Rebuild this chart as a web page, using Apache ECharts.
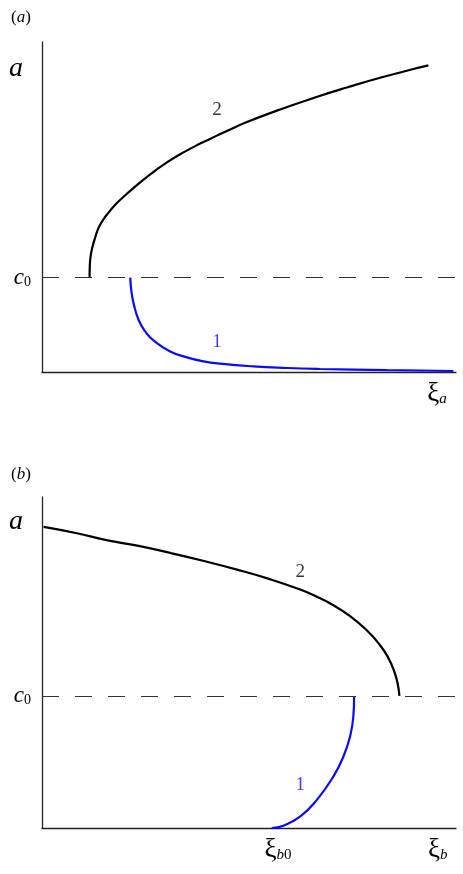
<!DOCTYPE html>
<html><head><meta charset="utf-8">
<script src="https://cdn.jsdelivr.net/npm/echarts@6/dist/echarts.min.js"></script>
<style>html,body{margin:0;padding:0;background:#fff}#c{width:463px;height:874px}</style>
</head><body><div id="c"></div>
<script>
// Panel (a): level c0 and curves (x, y in 0–100 units)
const c0A = 28.6;
const curveA2 = [[11.49,28.6],[11.54,31.85],[11.73,34.97],[12.21,37.99],[12.87,40.84],[13.66,43.67],[14.87,46.29],[16.08,48.28],[17.69,50.71],[19.31,52.64],[21.73,55.36],[26.14,59.9],[30.18,63.53],[34.18,66.55],[38.21,69.21],[42.25,71.63],[46.25,73.96],[49.49,75.75],[57.53,79.56],[65.57,83.04],[73.63,86.21],[81.67,89.15],[89.7,91.81],[93.33,92.9]];
const curveA1 = [[21.32,28.6],[21.56,24.9],[22.11,20.87],[23.32,15.82],[24.94,12.28],[26.94,9.56],[30.97,6.23],[35.0,4.42],[39.01,3.21],[43.04,2.51],[51.08,1.69],[59.14,1.21],[67.18,0.91],[83.28,0.54],[99.36,0.3]];
const labelsA = [[42.3,79.3,'2'],[42.3,9.1,'1']];
const yTicksA = [c0A, 92];
const xTicksA = [95.4];

// Panel (b)
const c0B = 39.9;
const curveB2 = [[0.39,90.96],[8.14,89.12],[15.88,86.91],[23.63,85.14],[31.38,82.97],[39.13,80.65],[46.88,78.14],[54.63,75.34],[62.36,72.05],[66.39,69.88],[70.39,67.29],[74.42,64.0],[78.45,59.72],[81.67,55.22],[83.67,51.33],[84.88,48.01],[85.84,44.03],[86.33,39.9]];
const curveB1 = [[55.5,0],[58.3,0.7],[62.4,3.5],[66.4,8.5],[70.4,15.6],[72.8,21.6],[74.4,27.6],[75.2,33.6],[75.4,39.9]];
const labelsB = [[62.4,77.4,'2'],[62.4,13.1,'1']];
const yTicksB = [c0B, 92.5];
const xTicksB = [57, 95.6];

const F = 'Liberation Serif, Times New Roman, serif';
const BLUE = '#0a0aff';

const rich = {
  big: {fontFamily: F, fontStyle: 'italic', fontSize: 28, color: '#000', padding: [0, 8, 0, 0]},
  c: {fontFamily: F, fontStyle: 'italic', fontSize: 23, color: '#000'},
  sub0: {fontFamily: F, fontSize: 14, color: '#000', verticalAlign: 'bottom', padding: [8, 0, 0, 0]},
  xi: {fontFamily: F, fontSize: 27, color: '#000'},
  subi: {fontFamily: F, fontStyle: 'italic', fontSize: 15, color: '#000', padding: [12, 0, 0, 0]},
  subn: {fontFamily: F, fontSize: 15, color: '#000', padding: [12, 0, 0, 0]}
};

function yAxisFor(idx, ticks, c0) {
  return {
    type: 'value', gridIndex: idx, min: 0, max: 100,
    axisLine: {show: true, lineStyle: {color: '#222', width: 1.3}},
    axisTick: {show: false}, splitLine: {show: false},
    axisLabel: {
      customValues: ticks, margin: 11,
      formatter: v => (Math.abs(v - c0) < 0.01 ? '{c|c}{sub0|0}' : '{big|a}'),
      rich: rich
    }
  };
}
function xAxisFor(idx, ticks, fmt) {
  return {
    type: 'value', gridIndex: idx, min: 0, max: 100,
    axisLine: {show: true, onZero: false, lineStyle: {color: '#222', width: 1.3}},
    axisTick: {show: false}, splitLine: {show: false},
    axisLabel: {customValues: ticks, margin: 8, formatter: fmt, rich: rich}
  };
}
function curve(idx, data, color, withLine, c0) {
  const s = {
    type: 'line', xAxisIndex: idx, yAxisIndex: idx, data: data,
    smooth: 0.5, showSymbol: false, symbol: 'none', silent: true,
    lineStyle: {color: color, width: 2.2}, z: 3
  };
  if (withLine) {
    s.markLine = {
      silent: true, symbol: 'none', label: {show: false},
      lineStyle: {color: '#333', type: [17, 16], width: 1.1},
      data: [{yAxis: c0}]
    };
  }
  return s;
}
function labels(idx, data) {
  return {
    type: 'scatter', xAxisIndex: idx, yAxisIndex: idx, symbolSize: 0, silent: true,
    data: data.map(d => ({value: [d[0], d[1]], name: d[2],
      label: {color: d[2] === '1' ? BLUE : '#000'}})),
    label: {show: true, position: 'inside', formatter: p => p.name, fontFamily: F, fontSize: 19, textBorderWidth: 0}
  };
}

const titleStyle = {fontFamily: F, fontSize: 17, fontWeight: 'normal', color: '#000',
  rich: {i: {fontFamily: F, fontSize: 17, fontStyle: 'italic', color: '#000'}}};

const chart = echarts.init(document.getElementById('c'), null, {renderer: 'canvas'});
chart.setOption({
  animation: false,
  backgroundColor: '#fff',
  title: [
    {text: '({i|a})', left: 6, top: 4, textStyle: titleStyle},
    {text: '({i|b})', left: 6, top: 461, textStyle: titleStyle}
  ],
  grid: [
    {left: 42, top: 42, width: 414, height: 330},
    {left: 42, top: 497, width: 414, height: 331}
  ],
  xAxis: [
    xAxisFor(0, xTicksA, () => '{xi|ξ}{subi|a}'),
    xAxisFor(1, xTicksB, v => (v < 80 ? '{xi|ξ}{subi|b}{subn|0}' : '{xi|ξ}{subi|b}'))
  ],
  yAxis: [yAxisFor(0, yTicksA, c0A), yAxisFor(1, yTicksB, c0B)],
  series: [
    curve(0, curveA2, '#000', true, c0A),
    curve(0, curveA1, BLUE, false),
    labels(0, labelsA),
    curve(1, curveB2, '#000', true, c0B),
    curve(1, curveB1, BLUE, false),
    labels(1, labelsB)
  ]
});
</script></body></html>
